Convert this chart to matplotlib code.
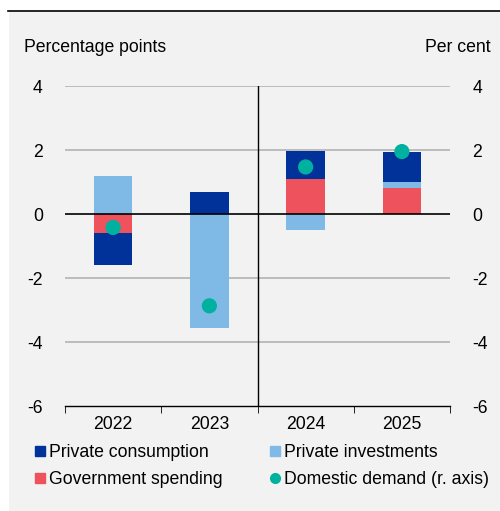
import numpy as np
import matplotlib.pyplot as plt
from matplotlib.patches import Rectangle
from matplotlib.lines import Line2D

plt.rcParams['font.family'] = ['Liberation Sans', 'DejaVu Sans']
plt.rcParams['font.size'] = 12.7
plt.rcParams['axes.unicode_minus'] = False

years = ['2022', '2023', '2024', '2025']
consumption = [-1.0, 0.68, 0.88, 0.95]
investments = [1.2, -3.55, -0.5, 0.2]
government = [-0.6, 0.0, 1.1, 0.8]
domestic = [-0.42, -2.87, 1.47, 1.95]

c_cons = '#003299'
c_inv = '#7fbae6'
c_gov = '#ee525c'
c_dom = '#00b1a0'
bg = '#f2f2f2'

fig = plt.figure(figsize=(5.0, 5.11), dpi=100)
fig.patches.append(Rectangle((9 / 500, 0), 1, 499 / 511, transform=fig.transFigure,
                             facecolor=bg, edgecolor='none', zorder=-10))
fig.add_artist(Line2D([8 / 500, 1], [500 / 511, 500 / 511], color='black', lw=1.2))

ax = fig.add_axes([65 / 500, 105 / 511, 385 / 500, 320 / 511])
ax.set_facecolor(bg)

x = np.arange(len(years))
w = 0.4

# stacking: positives upwards, negatives downwards
pos = np.zeros(len(years))
neg = np.zeros(len(years))
for vals, col in [(government, c_gov), (investments, c_inv), (consumption, c_cons)]:
    vals = np.array(vals)
    bottom = np.where(vals >= 0, pos, neg)
    ax.bar(x, vals, w, bottom=bottom, color=col, zorder=3)
    pos = pos + np.where(vals >= 0, vals, 0)
    neg = neg + np.where(vals < 0, vals, 0)

ax2 = ax.twinx()
ax2.scatter(x, domestic, s=120, color=c_dom, zorder=5, edgecolor='none')

for a in (ax, ax2):
    a.set_ylim(-6, 4)
    a.set_yticks([-6, -4, -2, 0, 2, 4])
    for s in a.spines.values():
        s.set_visible(False)
    a.tick_params(axis='y', length=0, pad=16)
ax.set_xlim(-0.5, 3.5)
ax2.set_xlim(-0.5, 3.5)

for v in [2, 4, -2, -4]:
    ax.axhline(v, color='#b3b3b3', lw=1.2, zorder=1)
ax.axhline(0, color='black', lw=1.2, zorder=4)
ax.axvline(1.5, color='black', lw=1, zorder=4)

ax.spines['bottom'].set_visible(True)
ax.spines['bottom'].set_linewidth(1)
ax.set_xticks(x)
ax.set_xticklabels(years)
ax.set_xticks([-0.5, 0.5, 1.5, 2.5, 3.5], minor=True)
ax.tick_params(axis='x', which='major', length=0, pad=7)
ax.tick_params(axis='x', which='minor', length=5, direction='out')

fig.text(24 / 500, 1 - 48 / 511, 'Percentage points', ha='left', va='center')
fig.text(491 / 500, 1 - 48 / 511, 'Per cent', ha='right', va='center')

handles = [
    Line2D([], [], marker='s', ls='none', color=c_cons, markersize=6.5),
    Line2D([], [], marker='s', ls='none', color=c_gov, markersize=6.5),
    Line2D([], [], marker='s', ls='none', color=c_inv, markersize=6.5),
    Line2D([], [], marker='o', ls='none', color=c_dom, markersize=7),
]
labels = ['Private consumption', 'Government spending', 'Private investments',
          'Domestic demand (r. axis)']
fig.legend(handles, labels, ncol=2, loc='upper left', bbox_to_anchor=(36 / 500, 1 - 444 / 511),
           frameon=False, handlelength=0.5, handletextpad=0.25, columnspacing=2.7,
           labelspacing=0.58, borderaxespad=0, borderpad=0)

fig.savefig('out.png', dpi=100, facecolor='white')
